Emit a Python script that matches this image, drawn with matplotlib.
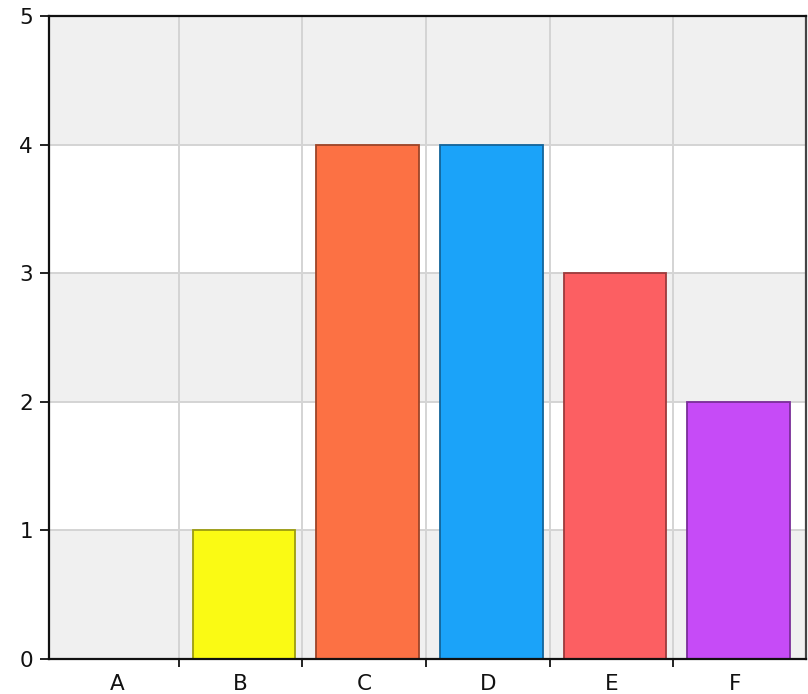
import matplotlib
matplotlib.use("Agg")
import matplotlib.pyplot as plt
import numpy as np

categories = ["A", "B", "C", "D", "E", "F"]
counts = [0, 1, 4, 4, 3, 2]
bar_colors = ["#f0f0f0", "#fafa14", "#fc7144", "#1ba3f9", "#fc5f62", "#c64bf7"]
edge_colors = ["#f0f0f0", "#9c9c10", "#9c4428", "#13649a", "#9c3a3c", "#7a2e99"]
y_ticks = [0, 1, 2, 3, 4, 5]

plt.rcParams['font.family'] = ['DejaVu Sans']

fig = plt.figure(figsize=(8.08, 6.94), dpi=100)
ax = fig.add_axes([49/808, 35/694, 757/808, 643/694])

x = np.arange(len(categories))

# alternating background bands
for lo in (0, 2, 4):
    ax.axhspan(lo, lo + 1, color="#f0f0f0", zorder=0, lw=0)

# grid lines between categories and at each y step
for b in x[:-1] + 0.5:
    ax.axvline(b, color="#d4d4d4", lw=1.4, zorder=1)
for yv in y_ticks[1:-1]:
    ax.axhline(yv, color="#d4d4d4", lw=1.4, zorder=1)

ax.bar(x + 0.028, counts, width=0.83, color=bar_colors, edgecolor=edge_colors,
       linewidth=1.3, zorder=2)

ax.set_xlim(-0.551, 5.575)
ax.set_ylim(0, 5)

ax.set_yticks(y_ticks)
ax.set_yticklabels([str(v) for v in y_ticks], fontsize=15.5, color="#111111")
ax.tick_params(axis="y", length=6.5, width=1.3, pad=5, color="#111111")

ax.set_xticks(x[:-1] + 0.5)
ax.set_xticklabels([])
ax.set_xticks(x, minor=True)
ax.set_xticklabels(categories, minor=True, fontsize=15.5, color="#111111")
ax.tick_params(axis="x", which="major", length=6, width=1.3, color="#111111")
ax.tick_params(axis="x", which="minor", length=0, pad=11)

for side in ("left", "bottom", "top"):
    ax.spines[side].set_color("#111111")
    ax.spines[side].set_linewidth(1.6)
ax.spines["right"].set_color("#444444")
ax.spines["right"].set_linewidth(1.6)

fig.savefig("out.png", dpi=100)
